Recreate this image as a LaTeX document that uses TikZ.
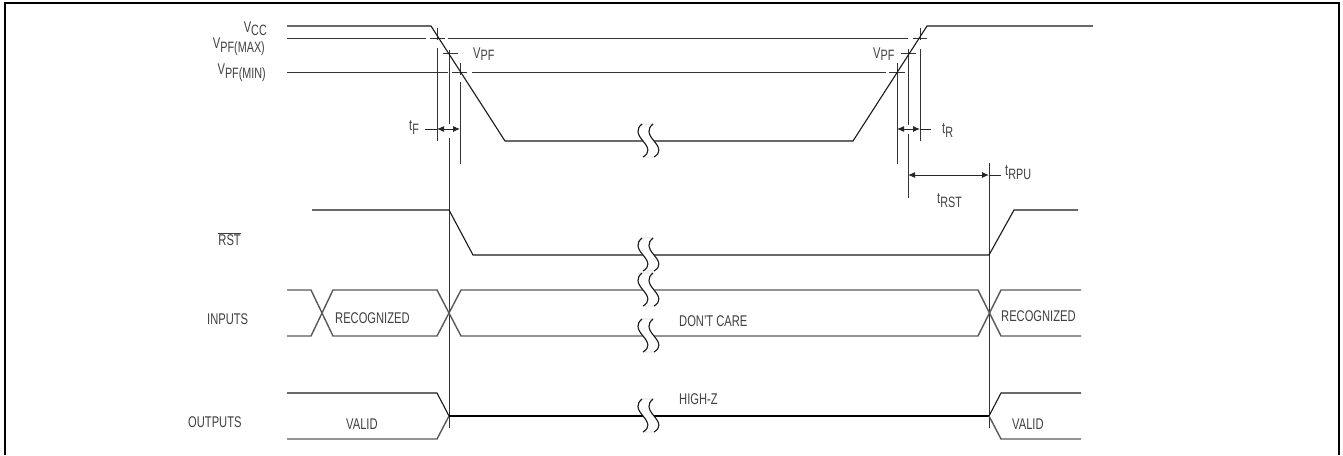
\documentclass[tikz,border=0pt]{standalone}
\usepackage{fontspec}
\setmainfont{Liberation Sans}[FakeStretch=0.72]
\usetikzlibrary{calc,arrows.meta}
\tikzset{
  sigline/.style={black!90,line width=1.1pt},
  busline/.style={black!65,line width=1.4pt},
  zline/.style={black,line width=1.6pt},
  guide/.style={black!80,line width=1pt},
  dimline/.style={black!85,line width=1pt,>={Latex[length=7pt,width=6pt]}},
  lbl/.style={inner sep=0pt,text=black!75,font=\fontsize{15.5}{17}\selectfont},
  framing/.style={black,line width=2.6pt}
}
\newcommand\subtag[3]{#1\lower#3pt\hbox{\fontsize{15}{17}\selectfont #2}}
\newcommand\breakmark[1]{% y of the signal that is cut
\begin{scope}[shift={(648,#1)}]
\filldraw[fill=white,draw=black!15,line width=0.6pt] (-6,-17) .. controls (-12,-12) and (-11,-7) .. (-5,0) .. controls (1,7) and (2,12) .. (-5,16) -- (6,16) .. controls (13,12) and (12,7) .. (6,0) .. controls (0,-7) and (-1,-12) .. (5,-17) -- cycle;
\draw[sigline] (-6,-17) .. controls (-12,-12) and (-11,-7) .. (-5,0) .. controls (1,7) and (2,12) .. (-5,16);
\draw[sigline] (5,-17) .. controls (-1,-12) and (0,-7) .. (6,0) .. controls (12,7) and (13,12) .. (6,16);
\end{scope}}

\begin{document}
\begin{tikzpicture}[x=1pt,y=-1pt]
      \useasboundingbox (0,0) rectangle (1343,455);
      \draw[framing] (5,455) -- (5,3) -- (1339,3) -- (1339,455);

      % threshold levels
      \draw[guide] (287,38) -- (426,38);
      \draw[guide] (430,38) -- (445,38);
      \draw[guide] (448,38) -- (908,38);
      \draw[guide] (913,38) -- (927,38);
      \draw[guide] (287,72) -- (448,72);
      \draw[guide] (452,72) -- (467,72);
      \draw[guide] (472,72) -- (886,72);
      \draw[guide] (889,72) -- (905,72);
      \draw[guide] (443,53) -- (458,53);
      \draw[guide] (901,53) -- (916,53);

      % vertical markers
      \draw[guide] (437,28) -- (437,40);
      \draw[guide] (437,48) -- (437,141);
      \draw[guide] (449,50) -- (449,124);
      \draw[guide] (449,138) -- (449,428);
      \draw[guide] (460,63) -- (460,75);
      \draw[guide] (460,82) -- (460,164);
      \draw[guide] (897,63) -- (897,164);
      \draw[guide] (908,49) -- (908,125);
      \draw[guide] (908,134) -- (908,198);
      \draw[guide] (920,28) -- (920,40);
      \draw[guide] (920,49) -- (920,141);
      \draw[guide] (989,163) -- (989,428);

      % timing arrows
      \draw[dimline] (425,129) -- (437,129);
      \draw[dimline,<->] (437,129) -- (460,129);
      \draw[dimline,<->] (897,129) -- (920,129);
      \draw[dimline] (920,129) -- (931,129);
      \draw[dimline,<->] (908,175) -- (989,175);
      \draw[dimline] (989,175) -- (1001,175);

      % signals
      \draw[sigline] (287,26) -- (431,26) -- (505,141) -- (853,141) -- (927,26) -- (1093,26);
      \draw[sigline] (312,210) -- (449,210) -- (473,255) -- (989,255) -- (1014,210) -- (1078,210);
      \draw[busline] (287,290) -- (311,290) -- (333,336) -- (437,336) -- (461,290) -- (978,290) -- (1001,336) -- (1081,336);
      \draw[busline] (287,336) -- (311,336) -- (333,290) -- (437,290) -- (461,336) -- (978,336) -- (1001,290) -- (1081,290);
      \draw[sigline] (287,393) -- (437,393) -- (449,416);
      \draw[busline] (287,439) -- (437,439) -- (449,416);
      \draw[zline] (449,416) -- (989,416);
      \draw[sigline] (1081,393) -- (1001,393) -- (989,416);
      \draw[busline] (1081,439) -- (1001,439) -- (989,416);

      \breakmark{141}
      \breakmark{255}
      \breakmark{290}
      \breakmark{336}
      \breakmark{416}

      % labels
      \node (vcc) at (267,32) [lbl,anchor=base east] {\subtag{V}{CC}{3}};
      \node (vpfmax) at (265,48) [lbl,anchor=base east] {\subtag{V}{PF(MAX)}{4}};
      \node (vpfmin) at (266,74) [lbl,anchor=base east] {\subtag{V}{PF(MIN)}{4}};
      \node (vpfl) at (473,58) [lbl,anchor=base west] {\subtag{V}{PF}{2}};
      \node (vpfr) at (873,58) [lbl,anchor=base west] {\subtag{V}{PF}{2}};
      \node (tf) at (409,130) [lbl,anchor=base west] {\subtag{t}{F}{4}};
      \node (tr) at (942,133) [lbl,anchor=base west] {\subtag{t}{R}{4}};
      \node (trpu) at (1005,175) [lbl,anchor=base west] {\subtag{t}{RPU}{4}};
      \node (trst) at (937,203) [lbl,anchor=base west] {\subtag{t}{RST}{4}};
      \node (rstbar) at (241,245) [lbl,anchor=base east] {$\overline{\mbox{RST}}$};
      \node (inputs) at (207,324) [lbl,anchor=base west] {INPUTS};
      \node (outputs) at (188,427) [lbl,anchor=base west] {OUTPUTS};
      \node (recogl) at (335,323) [lbl,anchor=base west] {RECOGNIZED};
      \node (recogr) at (1001,321) [lbl,anchor=base west] {RECOGNIZED};
      \node (dontcare) at (679,326) [lbl,anchor=base west] {DON'T CARE};
      \node (highz) at (679,404) [lbl,anchor=base west] {HIGH-Z};
      \node (validl) at (346,429) [lbl,anchor=base west] {VALID};
      \node (validr) at (1012,429) [lbl,anchor=base west] {VALID};
    \end{tikzpicture}
\end{document}
